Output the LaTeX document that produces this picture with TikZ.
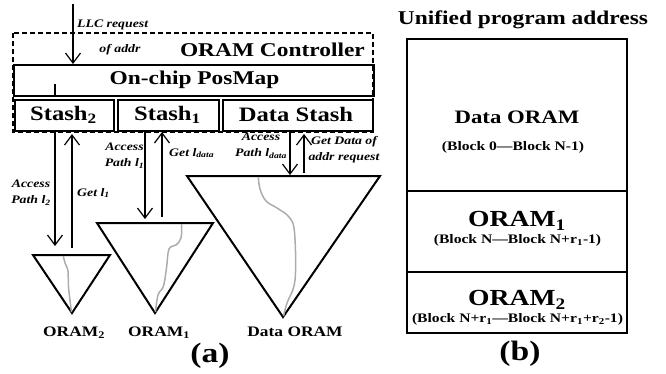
\documentclass[tikz,border=0pt]{standalone}
\usepackage{fontspec}
\setmainfont[FakeStretch=1.2]{Liberation Serif}
\usetikzlibrary{arrows.meta}
\begin{document}
\begin{tikzpicture}[x=1pt,y=-1pt,
  box/.style={draw, line width=1.8pt, inner sep=0pt, anchor=north west},
  rbox/.style={draw, line width=1.5pt},
  bigtxt/.style={font=\bfseries\fontsize{19.5}{22}\selectfont, inner sep=0pt},
  midtxt/.style={font=\bfseries\fontsize{14.5}{17}\selectfont, inner sep=0pt},
  orm/.style={font=\bfseries\fontsize{23}{26}\selectfont, inner sep=0pt},
  blk/.style={font=\bfseries\fontsize{13}{15}\selectfont, inner sep=0pt},
  lab/.style={font=\bfseries\itshape\fontsize{11.5}{16}\selectfont, align=center, inner sep=0pt},
  arr/.style={line width=1.2pt, -{Straight Barb[length=10pt,width=15pt]}},
  tri/.style={draw, line width=2pt, line join=miter},
  gp/.style={gray!65, line width=1.5pt},
  dbox/.style={draw, line width=1.5pt, dash pattern=on 5pt off 3pt}]
\useasboundingbox (0,0) rectangle (666,373);
% ---------- (a) ----------
\draw[dbox] (13,33) rectangle (373,132);
\node[box, minimum width=360pt, minimum height=31pt] (pm) at (13,64) {};
\node[bigtxt] (pmt) at (194.5,80) {On-chip PosMap};
\node[bigtxt, anchor=east] (ctl) at (365,50) {ORAM Controller};
\node[box, minimum width=99pt, minimum height=31pt] (s2) at (14,99) {};
\node[box, minimum width=101pt, minimum height=31pt] (s1) at (117,99) {};
\node[box, minimum width=150pt, minimum height=31pt] (ds) at (222,99) {};
\node[bigtxt, font=\bfseries\fontsize{20.5}{22}\selectfont] at (63.5,115) {Stash\textsubscript{2}};
\node[bigtxt, font=\bfseries\fontsize{20.5}{22}\selectfont] at (167.5,115) {Stash\textsubscript{1}};
\node[bigtxt, font=\bfseries\fontsize{20.5}{22}\selectfont] at (296,114) {Data Stash};
\draw[line width=1.2pt] (55,84) -- (55,96);
% LLC request
\coordinate (llc) at (73,4);
\draw[arr] (llc) -- (llc |- pm.north);
\node[lab, anchor=west] (llct) at (77,25) {LLC request};
\node[lab] (oft) at (120,50) {of addr};
% triangles
\coordinate (t2a) at (33,255); \coordinate (t2b) at (110,255); \coordinate (t2c) at (72,313);
\coordinate (t1a) at (97,223); \coordinate (t1b) at (213,223); \coordinate (t1c) at (155,313);
\coordinate (tda) at (187,176); \coordinate (tdb) at (380,176); \coordinate (tdc) at (283,317);
\draw[tri] (t2a) -- (t2b) -- (t2c) -- cycle;
\draw[tri] (t1a) -- (t1b) -- (t1c) -- cycle;
\draw[tri] (tda) -- (tdb) -- (tdc) -- cycle;
\draw[gp] plot[smooth, tension=0.6] coordinates {(63.3,256) (65,263) (68,271) (68.5,287) (71.5,312)};
\draw[gp] plot[smooth, tension=0.6] coordinates {(181.7,224) (181,238) (176,245) (169,249) (166.5,268) (163.5,286) (158,295) (155.5,312)};
\draw[gp] plot[smooth, tension=0.6] coordinates {(258.3,177) (260,189) (266,201) (277,208) (289,217) (294.5,232) (295,280) (287,303) (283.5,316)};
% arrows stash2
\coordinate (a2d1) at (55,132); \coordinate (a2d2) at (55,246);
\coordinate (a2u1) at (72,248); \coordinate (a2u2) at (72,134);
\draw[arr] (a2d1) -- (a2d2);
\draw[arr] (a2u1) -- (a2u2);
\node[lab] at (31,193) {Access\\Path \textit{l}\textsubscript{2}};
\node[lab, anchor=west] at (77,193) {Get \textit{l}\textsubscript{1}};
% arrows stash1
\coordinate (a1d1) at (145,132); \coordinate (a1d2) at (145,219);
\coordinate (a1u1) at (162,217); \coordinate (a1u2) at (162,132);
\draw[arr] (a1d1) -- (a1d2);
\draw[arr] (a1u1) -- (a1u2);
\node[lab] at (124.5,156) {Access\\Path \textit{l}\textsubscript{1}};
\node[lab, anchor=west] at (169,153) {Get \textit{l}\textsubscript{data}};
% arrows data stash
\coordinate (add1) at (290,132); \coordinate (add2) at (290,175);
\coordinate (adu1) at (304,173); \coordinate (adu2) at (304,134);
\draw[arr] (add1) -- (add2);
\draw[arr] (adu1) -- (adu2);
\node[lab] at (261,146) {Access\\Path \textit{l}\textsubscript{data}};
\node[lab] at (344,150) {Get Data of\\addr request};
% bottom labels
\node[midtxt] at (74,333) {ORAM\textsubscript{2}};
\node[midtxt] at (159,333) {ORAM\textsubscript{1}};
\node[midtxt] at (295,332) {Data ORAM};
\node[font=\bfseries\fontsize{28}{30}\selectfont, inner sep=0pt] at (210,356) {(a)};
% ---------- (b) ----------
\node[bigtxt] (ua) at (523,20) {Unified program address};
\draw[rbox] (407,39) rectangle (627,333);
\draw[rbox] (407,191) -- (627,191);
\draw[rbox] (407,272) -- (627,272);
\node[bigtxt, font=\bfseries\fontsize{19}{22}\selectfont] at (517,117) {Data ORAM};
\node[blk] at (513,147) {(Block 0—Block N-1)};
\node[orm] at (517,221) {ORAM\textsubscript{1}};
\node[blk] at (517.5,240) {(Block N—Block N+r\textsubscript{1}-1)};
\node[orm] at (517,300) {ORAM\textsubscript{2}};
\node[blk] at (517.5,319) {(Block N+r\textsubscript{1}—Block N+r\textsubscript{1}+r\textsubscript{2}-1)};
\node[font=\bfseries\fontsize{28}{30}\selectfont, inner sep=0pt] at (520,354) {(b)};
\end{tikzpicture}
\end{document}
